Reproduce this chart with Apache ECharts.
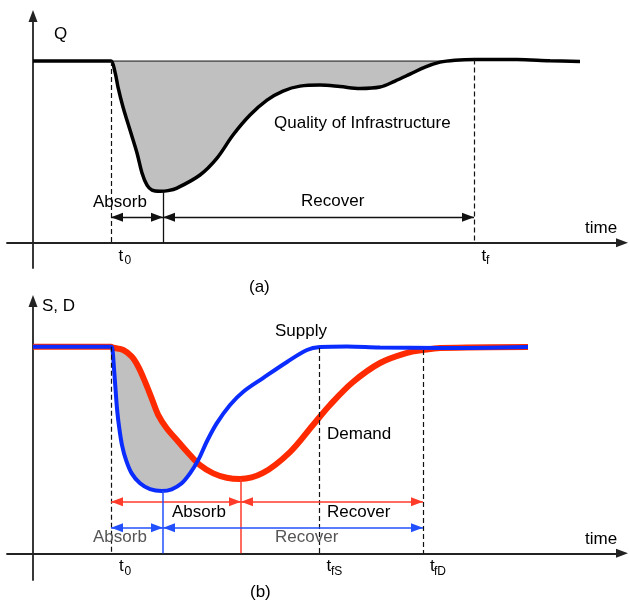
<!DOCTYPE html>
<html><head><meta charset="utf-8">
<script src="https://cdn.jsdelivr.net/npm/echarts@6/dist/echarts.min.js"></script>
<style>html,body{margin:0;padding:0;background:#fff}#c{width:629px;height:601px}</style>
</head><body><div id="c"></div>
<script>
// ---------- Panel (a): quality of infrastructure ----------
const timeA = [0, 7.3, 7.8, 8.2, 8.5, 9.0, 9.7, 10.4, 10.9, 11.4, 11.9, 12.7, 13.5, 14.4, 16.7, 18.4, 20.0, 21.7, 23.4, 25.0, 26.7, 28.7, 30.7, 32.7, 34.7, 36.2, 37.7, 39.2, 40.7, 42.2, 44.2, 48.4, 51.7, 54.7];
const qualityA = [100, 100, 100, 93.9, 85.7, 74.7, 62.0, 49.4, 38.4, 31.7, 29.0, 28.4, 28.7, 30.1, 37.3, 46.6, 59.3, 70.3, 78.5, 83.5, 86.2, 86.8, 86.0, 84.9, 85.7, 89.0, 92.8, 96.7, 99.4, 100.5, 100.9, 100.8, 100.2, 99.8];
const baselineA = 100;
const shadeEndA = 41.3;           // time where quality regains the baseline
const eventsA = { t0: 7.8, tMin: 13.0, tf: 44.1 };
const minQA = 28.4;
const arrowRowA = 14.1;

// ---------- Panel (b): supply and demand ----------
const timeS = [0, 7.3, 7.8, 7.93, 8.1, 8.27, 8.43, 8.63, 8.9, 9.3, 9.87, 10.7, 11.7, 12.87, 13.87, 14.87, 15.7, 16.53, 17.37, 18.37, 19.7, 21.03, 23.0, 25.4, 27.4, 28.7, 31.4, 34.7, 40.7, 49.5];
const supplyB = [100, 100, 100, 99.2, 89.5, 78.2, 68.5, 60.5, 52.4, 45.2, 38.7, 33.9, 31.1, 30.2, 31.0, 33.9, 38.7, 45.2, 54.0, 62.9, 71.8, 78.2, 84.8, 92.6, 98.4, 99.8, 100.1, 99.6, 99.4, 99.9];
const timeD = [0, 7.3, 7.8, 8.03, 9.03, 9.87, 10.53, 11.2, 11.87, 12.53, 13.37, 14.53, 15.7, 16.7, 18.03, 19.37, 20.7, 23.0, 25.7, 28.0, 29.7, 32.0, 34.7, 37.4, 39.0, 40.7, 49.5];
const demandB = [100, 100, 100, 99.5, 98.4, 95.2, 90.3, 83.1, 75.0, 66.9, 60.5, 54.0, 47.6, 42.7, 38.7, 36.6, 36.0, 38.9, 49.0, 62.1, 71.8, 82.9, 92.1, 97.0, 98.4, 99.4, 99.9];
const crossB = [16.4, 44.1];      // where supply climbs back above demand
const eventsB = { t0: 7.8, tMinS: 13.0, tMinD: 20.8, tfS: 28.6, tfD: 39.0 };
const minSB = 30.2, minDB = 36.0, tfSLevel = 99.4, tfDLevel = 98.4;
const rowDemandB = 25.0, rowSupplyB = 12.4;

const RED = '#ff2a00', BLUE = '#0a2cff', RED_T = '#ff3b2a', BLUE_T = '#2250ff', GRAYF = '#c0c0c0';
const FONT = '"Liberation Sans", Arial, Helvetica, sans-serif';
const FS = 17, FSUB = 12;

const zip = (xs, ys) => xs.map((x, i) => [x, ys[i]]);

function axisLineCfg() {
  return { show: true, onZero: true, symbol: ['none', 'triangle'], symbolSize: [9, 12],
    lineStyle: { color: '#222', width: 1.8 } };
}
function xAxisCfg(g) {
  return { type: 'value', gridIndex: g, min: -2.6, max: 58.9, axisLine: axisLineCfg(),
    axisTick: { show: false }, axisLabel: { show: false }, splitLine: { show: false } };
}
function yAxisCfg(g, min, max) {
  return { type: 'value', gridIndex: g, min, max, axisLine: axisLineCfg(),
    axisTick: { show: false }, axisLabel: { show: false }, splitLine: { show: false } };
}
function seg(a, b, color, width, type, arrows) {
  const s0 = arrows && arrows[0] ? 'triangle' : 'none';
  const s1 = arrows && arrows[1] ? 'triangle' : 'none';
  return [
    { coord: a, symbol: s0, symbolSize: [9, 12], symbolOffset: [0, 6],
      lineStyle: { color, width, type: type || 'solid' } },
    { coord: b, symbol: s1, symbolSize: [9, 12], symbolOffset: [0, 6] }
  ];
}
function markLine(data) {
  return { silent: true, animation: false, symbol: ['none', 'none'], label: { show: false },
    emphasis: { disabled: true }, data };
}
const DASH = [5, 3];

function polyA(params, api) {
  const pts = [];
  timeA.forEach((t, i) => { if (t >= eventsA.t0 && t <= shadeEndA) pts.push(api.coord([t, qualityA[i]])); });
  pts.push(api.coord([shadeEndA, baselineA]));
  pts.push(api.coord([eventsA.t0, baselineA]));
  return { type: 'polygon', shape: { points: pts }, style: { fill: GRAYF } };
}
function polyB(params, api) {
  const pts = [];
  timeD.forEach((t, i) => { if (t >= eventsB.t0 && t < crossB[0]) pts.push(api.coord([t, demandB[i]])); });
  pts.push(api.coord(crossB));
  const back = [];
  timeS.forEach((t, i) => { if (t >= eventsB.t0 && t < crossB[0]) back.push(api.coord([t, supplyB[i]])); });
  back.reverse().forEach(p => pts.push(p));
  return { type: 'polygon', shape: { points: pts }, style: { fill: GRAYF } };
}

function txt(text, x, y, size, color) {
  return { type: 'text', x, y, z: 100, silent: true,
    style: { text, font: size + 'px ' + FONT, fill: color || '#000', align: 'left', verticalAlign: 'middle' } };
}
function subTxt(main, sub, x, baseY, subX) {
  return [
    txt(main, x, baseY - 6, FS),
    txt(sub, subX, baseY - 1, FSUB)
  ];
}
const graphics = [
  txt('Q', 54, 34, FS),
  txt('Quality of Infrastructure', 274, 123.5, FS),
  txt('Absorb', 93, 202, FS),
  txt('Recover', 301, 201.5, FS),
  txt('time', 585, 228, FS),
  ...subTxt('t', '0', 118.5, 262, 124.5),
  ...subTxt('t', 'f', 481.5, 262, 486),
  txt('(a)', 249, 287.5, FS),
  txt('S, D', 42, 306, FS),
  txt('Supply', 275, 331, FS),
  txt('Demand', 327, 434.5, FS),
  txt('Absorb', 172, 512.5, FS),
  txt('Recover', 327, 512.5, FS),
  txt('Absorb', 93, 537.5, FS, '#555'),
  txt('Recover', 275, 537.5, FS, '#555'),
  txt('time', 585, 539, FS),
  ...subTxt('t', '0', 119, 572.5, 124.5),
  ...subTxt('t', 'fS', 326.5, 572.5, 331),
  ...subTxt('t', 'fD', 430, 572.5, 434),
  txt('(b)', 250, 592, FS)
];

const option = {
  animation: false,
  backgroundColor: '#fff',
  grid: [
    { left: 7, right: 7, top: 16, bottom: 333 },
    { left: 7, right: 7, top: 301, bottom: 21 }
  ],
  xAxis: [xAxisCfg(0), xAxisCfg(1)],
  yAxis: [yAxisCfg(0, -13.9, 124.8), yAxisCfg(1, -12.9, 122.1)],
  graphic: graphics,
  series: [
    // ----- (a)
    { type: 'custom', xAxisIndex: 0, yAxisIndex: 0, data: [[0, 0]], renderItem: polyA, z: 1, silent: true, clip: false },
    { type: 'line', xAxisIndex: 0, yAxisIndex: 0, data: [[eventsA.t0, baselineA], [shadeEndA, baselineA]],
      showSymbol: false, symbol: 'none', lineStyle: { color: '#111', width: 1 }, z: 2, silent: true },
    { type: 'line', xAxisIndex: 0, yAxisIndex: 0, data: zip(timeA, qualityA), smooth: 0.35,
      showSymbol: false, symbol: 'none', lineStyle: { color: '#000', width: 3.5 }, z: 3, silent: true,
      markLine: markLine([
        seg([eventsA.t0, baselineA], [eventsA.t0, 0], '#111', 1.2, DASH),
        seg([eventsA.tf, 100.9], [eventsA.tf, 0], '#111', 1.2, DASH),
        seg([eventsA.tMin, minQA], [eventsA.tMin, 0], '#111', 1.3),
        seg([eventsA.t0, arrowRowA], [eventsA.tMin, arrowRowA], '#111', 1.3, 'solid', [1, 1]),
        seg([eventsA.tMin, arrowRowA], [eventsA.tf, arrowRowA], '#111', 1.3, 'solid', [1, 1])
      ]) },
    // ----- (b)
    { type: 'custom', xAxisIndex: 1, yAxisIndex: 1, data: [[0, 0]], renderItem: polyB, z: 1, silent: true, clip: false },
    { type: 'line', xAxisIndex: 1, yAxisIndex: 1, data: zip(timeD, demandB), smooth: 0.35,
      showSymbol: false, symbol: 'none', lineStyle: { color: RED, width: 6 }, z: 3, silent: true,
      markLine: markLine([
        seg([eventsB.t0, 100], [eventsB.t0, 0], '#111', 1.2, DASH),
        seg([eventsB.tfS, tfSLevel], [eventsB.tfS, 0], '#111', 1.2, DASH),
        seg([eventsB.tfD, tfDLevel], [eventsB.tfD, 0], '#111', 1.2, DASH),
        seg([eventsB.tMinD, minDB], [eventsB.tMinD, 0], RED_T, 1.5),
        seg([eventsB.t0, rowDemandB], [eventsB.tMinD, rowDemandB], RED_T, 1.5, 'solid', [1, 1]),
        seg([eventsB.tMinD, rowDemandB], [eventsB.tfD, rowDemandB], RED_T, 1.5, 'solid', [1, 1])
      ]) },
    { type: 'line', xAxisIndex: 1, yAxisIndex: 1, data: zip(timeS, supplyB), smooth: 0.35,
      showSymbol: false, symbol: 'none', lineStyle: { color: BLUE, width: 4 }, z: 4, silent: true,
      markLine: markLine([
        seg([eventsB.tMinS, minSB], [eventsB.tMinS, 0], BLUE_T, 1.5),
        seg([eventsB.t0, rowSupplyB], [eventsB.tMinS, rowSupplyB], BLUE_T, 1.5, 'solid', [1, 1]),
        seg([eventsB.tMinS, rowSupplyB], [eventsB.tfD, rowSupplyB], BLUE_T, 1.5, 'solid', [1, 1])
      ]) }
  ]
};
const chart = echarts.init(document.getElementById('c'), null, { renderer: 'canvas' });
chart.setOption(option);
</script>
</body></html>
